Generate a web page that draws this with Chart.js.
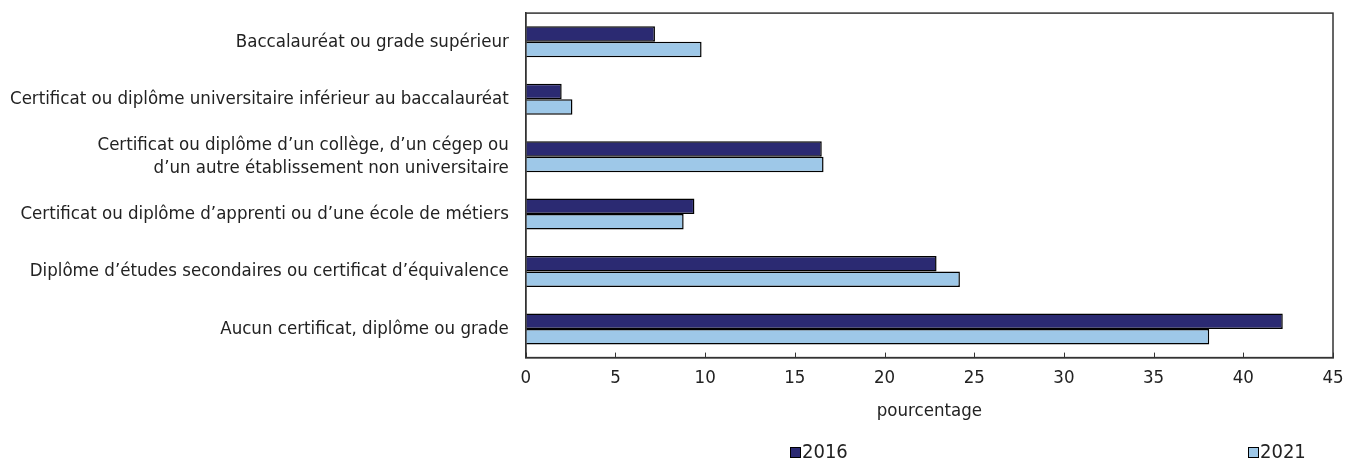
<!DOCTYPE html>
<html>
<head>
<meta charset="utf-8">
<script src="https://cdn.jsdelivr.net/npm/chart.js@4"></script>
<style>
  html, body { margin: 0; padding: 0; background: #fff; }
  #wrap { position: relative; width: 1347px; height: 460px; }
  #legend { position: absolute; top: 439px; left: 0; width: 1347px; height: 22px;
    font-family: "Liberation Sans Narrow", "DejaVu Sans Condensed", sans-serif; font-size: 20px; color: #222; }
  .item { position: absolute; top: 0; display: flex; align-items: center; }
  .box { width: 9px; height: 9px; border: 1px solid #000; margin-right: 1px; margin-top: 3px; }
</style>
</head>
<body>
<div id="wrap">
  <canvas id="chart" width="1347" height="460"></canvas>
  <div id="legend"></div>
</div>
<script>
const categories = [
  "Baccalauréat ou grade supérieur",
  "Certificat ou diplôme universitaire inférieur au baccalauréat",
  ["Certificat ou diplôme d’un collège, d’un cégep ou", "d’un autre établissement non universitaire"],
  "Certificat ou diplôme d’apprenti ou d’une école de métiers",
  "Diplôme d’études secondaires ou certificat d’équivalence",
  "Aucun certificat, diplôme ou grade"
];
const values2016 = [7.2, 2.0, 16.5, 9.4, 22.9, 42.2];
const values2021 = [9.8, 2.6, 16.6, 8.8, 24.2, 38.1];
const seriesNames = ["2016", "2021"];
const seriesColors = ["#2b2a72", "#9ec8e8"];
const xTicks = [0, 5, 10, 15, 20, 25, 30, 35, 40, 45];

const fontFamily = '"Liberation Sans Narrow", "DejaVu Sans Condensed", sans-serif';

// frame on top/right and inward tick marks on the x axis
const framePlugin = {
  id: "frame",
  afterDraw(chart) {
    const ctx = chart.ctx;
    const a = chart.chartArea;
    const x = chart.scales.x;
    ctx.save();
    ctx.strokeStyle = "#333";
    ctx.lineWidth = 1.5;
    ctx.strokeRect(a.left, a.top, a.right - a.left, a.bottom - a.top);
    ctx.lineWidth = 1;
    xTicks.forEach(t => {
      const px = Math.round(x.getPixelForValue(t)) + 0.5;
      ctx.beginPath();
      ctx.moveTo(px, a.bottom);
      ctx.lineTo(px, a.bottom - 5);
      ctx.stroke();
    });
    ctx.restore();
  }
};

// invisible tick marks used only as spacing between axis and labels
const spacer = len => ({ display: true, drawOnChartArea: false, drawTicks: true, tickLength: len, color: "rgba(0,0,0,0)" });

new Chart(document.getElementById("chart"), {
  type: "bar",
  data: {
    labels: categories,
    datasets: [
      { label: seriesNames[0], data: values2016, backgroundColor: seriesColors[0], borderColor: "#000", borderWidth: 1.5 },
      { label: seriesNames[1], data: values2021, backgroundColor: seriesColors[1], borderColor: "#000", borderWidth: 1.5 }
    ]
  },
  options: {
    indexAxis: "y",
    responsive: false,
    animation: false,
    layout: { padding: { top: 12, right: 14, bottom: 34, left: 8 } },
    datasets: { bar: { categoryPercentage: 0.54, barPercentage: 1 } },
    plugins: { legend: { display: false }, tooltip: { enabled: false } },
    scales: {
      x: {
        min: 0, max: 45,
        afterBuildTicks: s => { s.ticks = xTicks.map(v => ({ value: v })); },
        grid: spacer(7),
        border: { color: "#333", width: 1.5 },
        ticks: { color: "#222", padding: 2, font: { family: fontFamily, size: 18.5 } },
        title: { display: true, text: "pourcentage", color: "#222", padding: { top: 9, bottom: 4 }, font: { family: fontFamily, size: 18.5 } }
      },
      y: {
        grid: spacer(15),
        border: { color: "#333", width: 1.5 },
        ticks: { color: "#222", padding: 2, font: { family: fontFamily, size: 18.5 } }
      }
    }
  },
  plugins: [framePlugin]
});

// legend
const legend = document.getElementById("legend");
const legendX = [790, 1248];
seriesNames.forEach((name, i) => {
  const item = document.createElement("div");
  item.className = "item";
  item.style.left = legendX[i] + "px";
  item.innerHTML = `<span class="box" style="background:${seriesColors[i]}"></span><span>${name}</span>`;
  legend.appendChild(item);
});
</script>
</body>
</html>
